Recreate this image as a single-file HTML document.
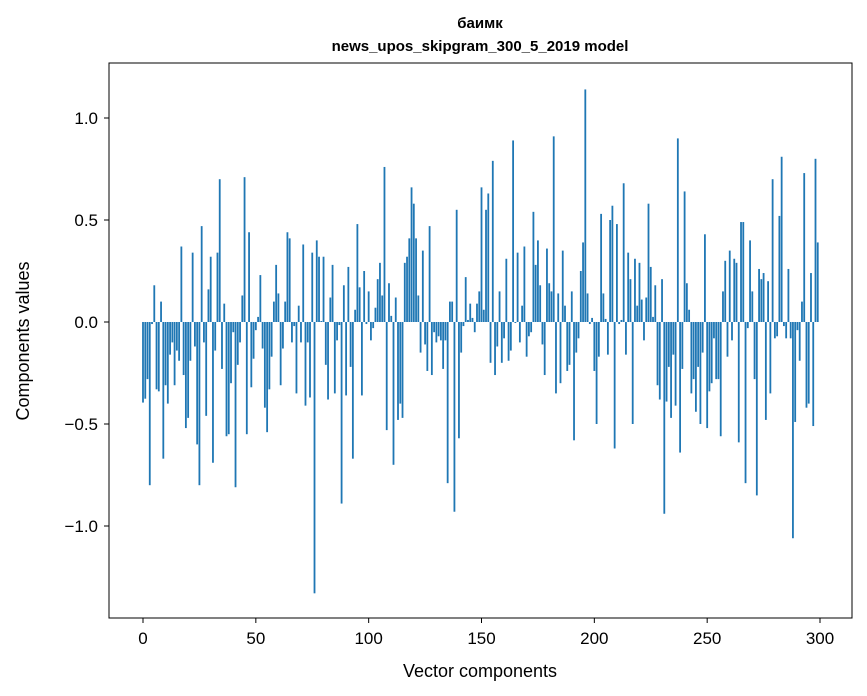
<!DOCTYPE html>
<html><head><meta charset="utf-8"><style>
body{margin:0;background:#fff;}
svg{display:block;font-family:"Liberation Sans","DejaVu Sans",sans-serif;}
</style></head><body>
<svg id="chart" width="867" height="696" xmlns="http://www.w3.org/2000/svg">
<rect width="867" height="696" fill="#fff"/>
<text x="480" y="28" text-anchor="middle" font-size="15" font-weight="bold">баимк</text>
<text x="480" y="51" text-anchor="middle" font-size="15" font-weight="bold">news_upos_skipgram_300_5_2019 model</text>
<g id="bars"></g>
<g id="xticks"></g>
<g id="yticks"></g>
<rect x="109" y="63" width="743" height="555" fill="none" stroke="#000" stroke-width="1"/>
<text x="480" y="677" text-anchor="middle" font-size="18">Vector components</text>
<text transform="translate(29,341) rotate(-90)" text-anchor="middle" font-size="18">Components values</text>
</svg>
<script>
const values = [
-0.395,-0.376,-0.28,-0.80,-0.01,0.18,-0.33,-0.34,0.10,-0.67,
-0.31,-0.40,-0.16,-0.10,-0.31,-0.14,-0.19,0.37,-0.26,-0.52,
-0.47,-0.19,0.34,-0.12,-0.60,-0.80,0.47,-0.10,-0.46,0.16,
0.32,-0.69,-0.14,0.34,0.70,-0.23,0.09,-0.56,-0.55,-0.30,
-0.05,-0.81,-0.21,-0.10,0.13,0.71,-0.55,0.44,-0.32,-0.18,
-0.04,0.025,0.23,-0.13,-0.42,-0.54,-0.33,-0.17,0.10,0.28,
0.14,-0.31,-0.13,0.10,0.44,0.41,-0.10,-0.02,-0.35,0.08,
-0.10,0.38,-0.41,-0.10,-0.37,0.34,-1.33,0.40,0.32,0.005,
0.32,-0.21,-0.38,0.12,0.28,-0.35,-0.09,-0.015,-0.89,0.18,
-0.36,0.27,-0.22,-0.67,0.06,0.48,0.17,-0.36,0.25,-0.01,
0.15,-0.09,-0.03,0.07,0.21,0.29,0.13,0.76,-0.53,0.19,
0.03,-0.70,0.12,-0.48,-0.40,-0.47,0.29,0.32,0.41,0.66,
0.58,0.41,0.13,-0.15,0.35,-0.11,-0.24,0.47,-0.26,-0.05,
-0.10,-0.07,-0.09,-0.23,-0.09,-0.79,0.10,0.10,-0.93,0.55,
-0.57,-0.15,-0.02,0.22,0.01,0.09,0.02,-0.05,0.09,0.15,
0.66,0.06,0.55,0.63,-0.20,0.79,-0.26,-0.12,0.15,-0.20,
-0.08,0.31,-0.19,-0.14,0.89,-0.005,0.34,-0.10,0.08,0.37,
-0.17,-0.07,-0.05,0.54,0.28,0.40,0.18,-0.11,-0.26,0.36,
0.19,0.15,0.91,-0.35,0.14,-0.30,0.35,0.08,-0.24,-0.21,
0.15,-0.58,-0.15,-0.08,0.25,0.39,1.14,0.14,-0.01,0.02,
-0.24,-0.50,-0.17,0.53,0.14,0.015,-0.16,0.50,0.57,-0.62,
0.48,-0.01,0.01,0.68,-0.16,0.34,0.21,-0.50,0.31,0.08,
0.29,0.11,-0.09,0.12,0.58,0.27,0.025,0.18,-0.31,-0.38,
0.21,-0.94,-0.39,-0.22,-0.47,-0.16,-0.41,0.90,-0.64,-0.23,
0.64,0.19,0.06,-0.35,-0.28,-0.44,-0.22,-0.50,-0.15,0.43,
-0.52,-0.34,-0.30,-0.08,-0.28,-0.28,-0.56,0.15,0.30,-0.17,
0.35,-0.09,0.31,0.29,-0.59,0.49,0.49,-0.79,-0.03,0.40,
0.15,-0.28,-0.85,0.26,0.21,0.24,-0.48,0.20,-0.35,0.70,
-0.08,-0.07,0.52,0.81,-0.02,-0.08,0.26,-0.08,-1.06,-0.49,
-0.04,-0.19,0.10,0.73,-0.42,-0.40,0.24,-0.51,0.80,0.39
];
const xTicks = [0,50,100,150,200,250,300];
const yTicks = [-1.0,-0.5,0.0,0.5,1.0];
const yTickLabels = ["\u22121.0","\u22120.5","0.0","0.5","1.0"];

const NS = "http://www.w3.org/2000/svg";
function xScale(v){ return 143 + v*2.2567; }
function yScale(v){ return 322 - v*204; }
const bw = 0.8*2.2567;
const bars = document.getElementById('bars');
values.forEach((v,i)=>{
  const r = document.createElementNS(NS,'rect');
  
  
  const y0 = yScale(0), y1 = yScale(v);
  r.setAttribute('x', xScale(i)-bw/2);
  r.setAttribute('width', bw);
  r.setAttribute('y', Math.min(y0,y1));
  r.setAttribute('height', Math.max(Math.abs(y1-y0),0.3));
  r.setAttribute('fill', '#1f77b4');
  bars.appendChild(r);
});
const xg = document.getElementById('xticks');
xTicks.forEach(t=>{
  const x = xScale(t);
  const l = document.createElementNS(NS,'line');
  
  
  l.setAttribute('x1',x);l.setAttribute('x2',x);l.setAttribute('y1',618);l.setAttribute('y2',623);
  l.setAttribute('stroke','#000');
  xg.appendChild(l);
  const tx = document.createElementNS(NS,'text');
  
  
  tx.setAttribute('x',x);tx.setAttribute('y',644);tx.setAttribute('text-anchor','middle');tx.setAttribute('font-size','17');
  tx.textContent = t;
  xg.appendChild(tx);
});
const yg = document.getElementById('yticks');
yTicks.forEach((t,i)=>{
  const y = yScale(t);
  const l = document.createElementNS(NS,'line');
  
  
  l.setAttribute('x1',104);l.setAttribute('x2',109);l.setAttribute('y1',y);l.setAttribute('y2',y);
  l.setAttribute('stroke','#000');
  yg.appendChild(l);
  const tx = document.createElementNS(NS,'text');
  
  
  tx.setAttribute('x',98);tx.setAttribute('y',y+6);tx.setAttribute('text-anchor','end');tx.setAttribute('font-size','17');
  tx.textContent = yTickLabels[i];
  yg.appendChild(tx);
});
</script>
</body></html>
